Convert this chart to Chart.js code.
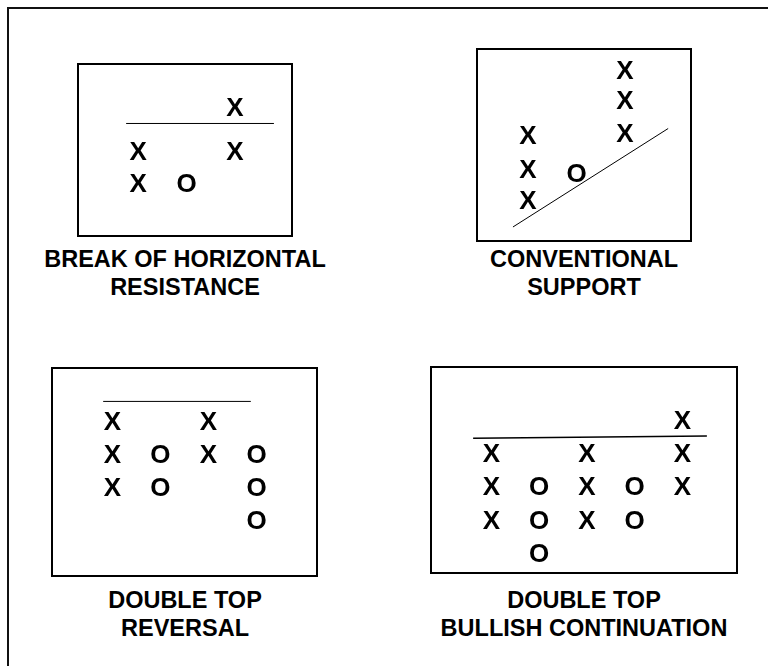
<!DOCTYPE html>
<html>
<head>
<meta charset="utf-8">
<script src="https://cdn.jsdelivr.net/npm/chart.js@4/dist/chart.umd.min.js"></script>
<style>
  html, body { margin: 0; padding: 0; background: #fff; }
  body { width: 768px; height: 666px; position: relative; overflow: hidden; font-family: "Liberation Sans", Arial, Helvetica, sans-serif; }
  #frame { position: absolute; left: 7px; top: 7px; width: 800px; height: 700px; border-left: 2px solid #111; border-top: 2px solid #111; }
  canvas { position: absolute; }
  .title { position: absolute; width: 360px; text-align: center; font-weight: bold; font-size: 23.5px; line-height: 28px; color: #000; }
</style>
</head>
<body>
<div id="frame"></div>
<canvas id="c1" width="216" height="174" style="left:77px;top:63px"></canvas>
<canvas id="c2" width="216" height="194" style="left:476px;top:48px"></canvas>
<canvas id="c3" width="267" height="210" style="left:51px;top:367px"></canvas>
<canvas id="c4" width="308" height="208" style="left:430px;top:366px"></canvas>
<div class="title" style="left:5px;top:245px">BREAK OF HORIZONTAL<br>RESISTANCE</div>
<div class="title" style="left:404px;top:245px">CONVENTIONAL<br>SUPPORT</div>
<div class="title" style="left:5px;top:586px">DOUBLE TOP<br>REVERSAL</div>
<div class="title" style="left:404px;top:586px">DOUBLE TOP<br>BULLISH CONTINUATION</div>
<script>
// ---- Data (column index, box level) ----
// Panel 1: Break of horizontal resistance
const p1XCol = [1, 1, 3, 3];
const p1XLev = [1, 2, 2, 3.38];
const p1OCol = [2];
const p1OLev = [1];
const p1LineCol = [0.75, 3.81];
const p1LineLev = [2.86, 2.86];

// Panel 2: Conventional support
const p2XCol = [1, 1, 1, 3, 3, 3];
const p2XLev = [1, 1.98, 3, 3.06, 4.08, 5];
const p2OCol = [2];
const p2OLev = [1.83];
const p2LineCol = [0.69, 3.89];
const p2LineLev = [0.17, 3.2];

// Panel 3: Double top reversal
const p3XCol = [1, 1, 1, 3, 3];
const p3XLev = [2, 3, 4, 3, 4];
const p3OCol = [2, 2, 4, 4, 4];
const p3OLev = [2, 3, 1, 2, 3];
const p3LineCol = [0.81, 3.88];
const p3LineLev = [4.58, 4.58];

// Panel 4: Double top bullish continuation
const p4XCol = [1, 1, 1, 3, 3, 3, 5, 5, 5];
const p4XLev = [2, 3, 4, 2, 3, 4, 3, 4, 5];
const p4OCol = [2, 2, 2, 4, 4];
const p4OLev = [1, 2, 3, 2, 3];
const p4LineCol = [0.62, 5.51];
const p4LineLev = [4.44, 4.51];

function pts(xs, ys) { return xs.map((x, i) => ({ x: x, y: ys[i] })); }

// scale range so that value v0 lands p0 px from the start, with `step` px per unit
function fitX(p0, v0, step, size) { const min = v0 - p0 / step; return { min: min, max: min + size / step }; }
function fitY(p0, v0, step, size) { const max = v0 + p0 / step; return { min: max - size / step, max: max }; }

const MARK_SIZE = 26;
const MARK_FONT = 'bold ' + MARK_SIZE + 'px "Liberation Sans", Arial, Helvetica, sans-serif';

const markPlugin = {
  id: 'pfMarks',
  afterDatasetsDraw(chart) {
    const ctx = chart.ctx;
    ctx.save();
    ctx.font = MARK_FONT;
    ctx.fillStyle = '#000';
    ctx.textAlign = 'center';
    ctx.textBaseline = 'alphabetic';
    chart.data.datasets.forEach((ds, i) => {
      if (!ds.glyph) return;
      const meta = chart.getDatasetMeta(i);
      meta.data.forEach(el => {
        ctx.fillText(ds.glyph, el.x, el.y + MARK_SIZE * 0.36);
      });
    });
    ctx.restore();
  },
  afterDraw(chart) {
    const ctx = chart.ctx;
    ctx.save();
    ctx.strokeStyle = '#000';
    ctx.lineWidth = 2;
    ctx.strokeRect(1, 1, chart.width - 2, chart.height - 2);
    ctx.restore();
  }
};

function makePanel(id, xc, xl, oc, ol, lc, ll, lineW, xr, yr) {
  new Chart(document.getElementById(id), {
    type: 'scatter',
    data: {
      datasets: [
        { data: pts(lc, ll), showLine: true, borderColor: '#000', borderWidth: lineW, pointRadius: 0, pointHoverRadius: 0, fill: false },
        { glyph: 'X', data: pts(xc, xl), pointRadius: 0, pointHoverRadius: 0 },
        { glyph: 'O', data: pts(oc, ol), pointRadius: 0, pointHoverRadius: 0 }
      ]
    },
    options: {
      responsive: false,
      animation: false,
      events: [],
      layout: { padding: 0 },
      plugins: { legend: { display: false }, tooltip: { enabled: false }, title: { display: false } },
      scales: {
        x: { type: 'linear', display: false, min: xr.min, max: xr.max },
        y: { type: 'linear', display: false, min: yr.min, max: yr.max }
      }
    },
    plugins: [markPlugin]
  });
}

makePanel('c1', p1XCol, p1XLev, p1OCol, p1OLev, p1LineCol, p1LineLev, 1,
  fitX(61.2, 1, 48.3, 216), fitY(120, 1, 32, 174));
makePanel('c2', p2XCol, p2XLev, p2OCol, p2OLev, p2LineCol, p2LineLev, 1,
  fitX(52, 1, 48.5, 216), fitY(152, 1, 32.5, 194));
makePanel('c3', p3XCol, p3XLev, p3OCol, p3OLev, p3LineCol, p3LineLev, 1,
  fitX(61.3, 1, 48.1, 267), fitY(152.2, 1, 32.9, 210));
makePanel('c4', p4XCol, p4XLev, p4OCol, p4OLev, p4LineCol, p4LineLev, 1.5,
  fitX(61.3, 1, 47.8, 308), fitY(186.5, 1, 33.2, 208));
</script>
</body>
</html>
